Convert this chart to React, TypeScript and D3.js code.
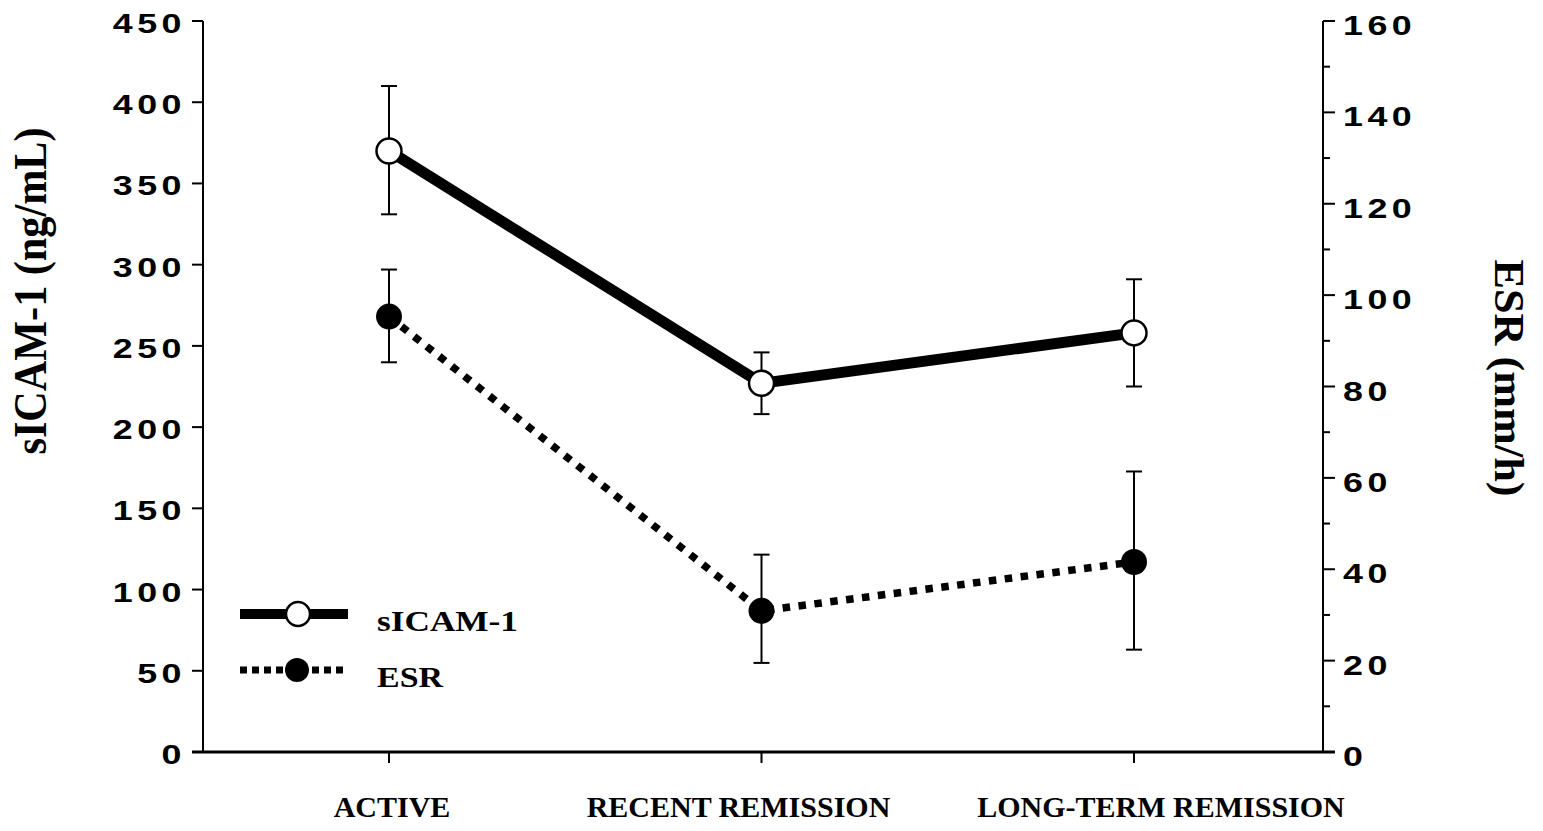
import React from "react";
import * as d3 from "d3";

const categories = ["ACTIVE", "RECENT REMISSION", "LONG-TERM REMISSION"];
const sicamMean = [370, 227, 258];
const sicamHi = [410, 246, 291];
const sicamLo = [331, 208, 225];
const esrMean = [95.3, 30.9, 41.6];
const esrHi = [105.6, 43.2, 61.4];
const esrLo = [85.3, 19.5, 22.4];
const leftTicks = [0, 50, 100, 150, 200, 250, 300, 350, 400, 450];
const rightTicks = [0, 20, 40, 60, 80, 100, 120, 140, 160];
const rightMinor = [10, 30, 50, 70, 90, 110, 130, 150];

// small horizontal nudges of the category labels, as placed in the original figure
const labelNudge = [3, -23, 27];

export default function App() {
  const W = 1543, H = 831;
  const left = 203, right = 1323, top = 21, bottom = 752;
  const x = d3.scalePoint<string>().domain(categories).range([389, 1134]);
  const yL = d3.scaleLinear().domain([0, 450]).range([bottom, top]);
  const yR = d3.scaleLinear().domain([0, 160]).range([bottom, top]);
  const sPath = d3.line<number>().x((_, i) => x(categories[i])!).y(d => yL(d))(sicamMean)!;
  const ePath = d3.line<number>().x((_, i) => x(categories[i])!).y(d => yR(d))(esrMean)!;
  const tickFont = { fontFamily: "Liberation Sans, Arial, sans-serif", fontWeight: 700, fontSize: 28, letterSpacing: 3.5 } as const;
  const serif = { fontFamily: "Liberation Serif, Times New Roman, serif", fontWeight: 700 } as const;
  return (
    <svg width={W} height={H} style={{ position: "absolute", left: 0, top: 0, background: "#fff" }}>
      {/* axes */}
      <line x1={left} y1={top} x2={left} y2={bottom} stroke="#000" strokeWidth={2} />
      <line x1={right} y1={top} x2={right} y2={bottom} stroke="#000" strokeWidth={2} />
      <line x1={left - 11} y1={bottom} x2={right + 12} y2={bottom} stroke="#000" strokeWidth={3} />
      {leftTicks.map(t => (
        <g key={"l" + t}>
          <line x1={left - 11} x2={left} y1={yL(t)} y2={yL(t)} stroke="#000" strokeWidth={2} />
          <text transform={`translate(186,${yL(t) + 12}) scale(1.28,1)`} textAnchor="end" {...tickFont}>{t}</text>
        </g>
      ))}
      {rightTicks.map(t => (
        <g key={"r" + t}>
          <line x1={right} x2={right + 12} y1={yR(t)} y2={yR(t)} stroke="#000" strokeWidth={2} />
          <text transform={`translate(1343,${yR(t) + 14}) scale(1.28,1)`} textAnchor="start" {...tickFont}>{t}</text>
        </g>
      ))}
      {rightMinor.map(t => (
        <line key={"m" + t} x1={right} x2={right + 7} y1={yR(t)} y2={yR(t)} stroke="#000" strokeWidth={2} />
      ))}
      {categories.map((c, i) => (
        <g key={c}>
          <line x1={x(c)} x2={x(c)} y1={bottom} y2={bottom + 11} stroke="#000" strokeWidth={2} />
          <text x={x(c)! + labelNudge[i]} y={817} textAnchor="middle" fontSize={30} {...serif}>{c}</text>
        </g>
      ))}
      {/* axis titles */}
      <text transform={`translate(46,291) rotate(-90)`} textAnchor="middle" fontSize={46}
        textLength={327} lengthAdjust="spacingAndGlyphs" {...serif}>sICAM-1 (ng/mL)</text>
      <text transform={`translate(1495,378) rotate(90)`} textAnchor="middle" fontSize={42}
        textLength={237} lengthAdjust="spacingAndGlyphs" {...serif}>ESR (mm/h)</text>
      {/* error bars */}
      {categories.map((c, i) => (
        <g key={"e" + c} stroke="#000" strokeWidth={2}>
          <line x1={x(c)} x2={x(c)} y1={yL(sicamHi[i])} y2={yL(sicamLo[i])} />
          <line x1={x(c)! - 8} x2={x(c)! + 8} y1={yL(sicamHi[i])} y2={yL(sicamHi[i])} />
          <line x1={x(c)! - 8} x2={x(c)! + 8} y1={yL(sicamLo[i])} y2={yL(sicamLo[i])} />
          <line x1={x(c)} x2={x(c)} y1={yR(esrHi[i])} y2={yR(esrLo[i])} />
          <line x1={x(c)! - 8} x2={x(c)! + 8} y1={yR(esrHi[i])} y2={yR(esrHi[i])} />
          <line x1={x(c)! - 8} x2={x(c)! + 8} y1={yR(esrLo[i])} y2={yR(esrLo[i])} />
        </g>
      ))}
      {/* lines */}
      <path d={sPath} fill="none" stroke="#000" strokeWidth={11} />
      <path d={ePath} fill="none" stroke="#000" strokeWidth={7.5} strokeDasharray="7.5 8.5" />
      {categories.map((c, i) => (
        <g key={"p" + c}>
          <circle cx={x(c)} cy={yL(sicamMean[i])} r={12.5} fill="#fff" stroke="#000" strokeWidth={2.5} />
          <circle cx={x(c)} cy={yR(esrMean[i])} r={13} fill="#000" />
        </g>
      ))}
      {/* legend */}
      <line x1={240} x2={348} y1={614} y2={614} stroke="#000" strokeWidth={10} />
      <circle cx={298} cy={614} r={12} fill="#fff" stroke="#000" strokeWidth={2.5} />
      <text x={377} y={631} fontSize={30} textLength={141} lengthAdjust="spacingAndGlyphs" {...serif}>sICAM-1</text>
      <line x1={240} x2={348} y1={670} y2={670} stroke="#000" strokeWidth={7} strokeDasharray="7 5" />
      <circle cx={297} cy={670} r={12} fill="#000" />
      <text x={377} y={687} fontSize={30} textLength={66} lengthAdjust="spacingAndGlyphs" {...serif}>ESR</text>
    </svg>
  );
}
